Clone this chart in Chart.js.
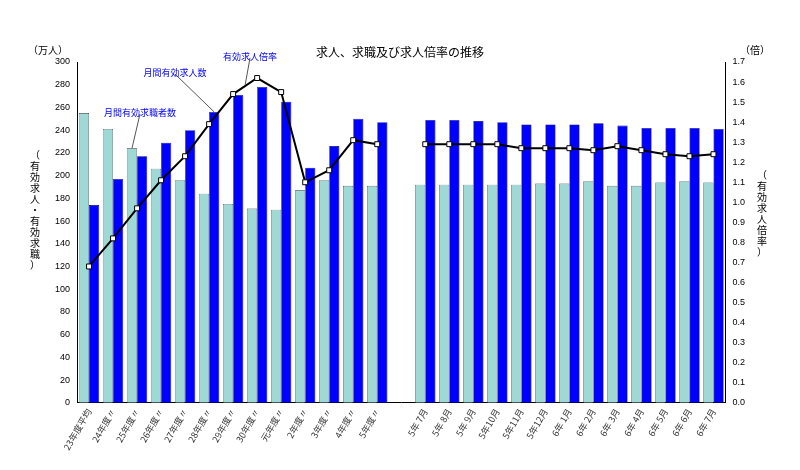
<!DOCTYPE html>
<html>
<head>
<meta charset="utf-8">
<script src="https://cdn.jsdelivr.net/npm/chart.js@4"></script>
<style>
  body { margin: 0; background: #fff; }
  #wrap { width: 800px; height: 470px; position: relative; }
</style>
</head>
<body>
<div id="wrap"><canvas id="c"></canvas></div>
<script>
const labels = ['23年度平均', '24年度〃', '25年度〃', '26年度〃', '27年度〃', '28年度〃', '29年度〃', '30年度〃', '元年度〃', '2年度〃', '3年度〃', '4年度〃', '5年度〃', '',
  '5年 7月', '5年 8月', '5年 9月', '5年10月', '5年11月', '5年12月', '6年 1月', '6年 2月', '6年 3月', '6年 4月', '6年 5月', '6年 6月', '6年 7月'];
const seekers = [255, 241, 224, 206, 196, 184, 175, 171, 170, 187, 196, 191, 191, null,
  192, 192, 192, 192, 192, 193, 193, 195, 191, 191, 194, 195, 194];
const offers = [174, 197, 217, 229, 240, 256, 271, 278, 265, 207, 226, 250, 247, null,
  249, 249, 248, 247, 245, 245, 245, 246, 244, 242, 242, 242, 241];
const ratio = [0.68, 0.82, 0.97, 1.11, 1.23, 1.39, 1.54, 1.62, 1.55, 1.10, 1.16, 1.31, 1.29, null,
  1.29, 1.29, 1.29, 1.29, 1.27, 1.27, 1.27, 1.26, 1.28, 1.26, 1.24, 1.23, 1.24];

const font = '"Noto Sans CJK JP", sans-serif';

// vertical Japanese text, one character per row
function drawVertical(ctx, text, x, yTop, size) {
  ctx.font = size + 'px ' + font;
  ctx.textAlign = 'center';
  ctx.textBaseline = 'top';
  [...text].forEach((ch, i) => ctx.fillText(ch, x, yTop + i * (size + 1)));
}

const extras = {
  id: 'extras',
  afterDraw(chart) {
    const ctx = chart.ctx;
    const x = chart.scales.x, yl = chart.scales.y, yr = chart.scales.y1;
    ctx.save();
    ctx.fillStyle = '#000';
    ctx.font = '12px ' + font;
    ctx.textAlign = 'center';
    ctx.textBaseline = 'middle';
    ctx.fillText('求人、求職及び求人倍率の推移', 400, 52);
    ctx.font = '10px ' + font;
    ctx.fillText('（万人）', 48, 50);
    ctx.fillText('（倍）', 755, 50);
    drawVertical(ctx, '（有効求人・有効求職）', 35, 150, 10);
    drawVertical(ctx, '（有効求人倍率）', 762, 170, 10);

    // callouts
    const bw = (x.getPixelForValue(1) - x.getPixelForValue(0)) * 0.85 / 2;
    ctx.strokeStyle = '#555';
    ctx.lineWidth = 1;
    ctx.font = '9px ' + font;
    ctx.fillStyle = '#0000ff';
    const callout = (text, tx, ty, px, py) => {
      ctx.beginPath();
      ctx.moveTo(tx, ty + 6);
      ctx.lineTo(px, py);
      ctx.stroke();
      ctx.fillText(text, tx, ty);
    };
    callout('月間有効求職者数', 140, 108, x.getPixelForValue(2) - bw / 2, yl.getPixelForValue(seekers[2]));
    callout('月間有効求人数', 175, 68, x.getPixelForValue(5) + bw / 2, yl.getPixelForValue(offers[5]));
    callout('有効求人倍率', 250, 52, (x.getPixelForValue(6) + x.getPixelForValue(7)) / 2, yr.getPixelForValue(1.585));
    ctx.restore();
  }
};

new Chart(document.getElementById('c'), {
  data: {
    labels: labels,
    datasets: [
      {
        type: 'line', label: '有効求人倍率', data: ratio, yAxisID: 'y1',
        borderColor: '#000', borderWidth: 2, tension: 0, spanGaps: false,
        pointStyle: 'rect', pointRadius: 3.5, pointBackgroundColor: '#fff',
        pointBorderColor: '#000', pointBorderWidth: 1, order: 0
      },
      {
        type: 'bar', label: '月間有効求職者数', data: seekers, yAxisID: 'y',
        backgroundColor: '#9ed9d6', borderColor: '#333', borderWidth: 0.6,
        barPercentage: 1, categoryPercentage: 0.85, order: 1
      },
      {
        type: 'bar', label: '月間有効求人数', data: offers, yAxisID: 'y',
        backgroundColor: '#0000ff', borderColor: '#000060', borderWidth: 0.6,
        barPercentage: 1, categoryPercentage: 0.85, order: 1
      }
    ]
  },
  options: {
    responsive: true,
    maintainAspectRatio: false,
    animation: false,
    layout: { padding: { left: 52, right: 52, top: 62, bottom: 14 } },
    plugins: { legend: { display: false }, tooltip: { enabled: false } },
    scales: {
      x: {
        grid: { display: false, drawTicks: false },
        border: { color: '#000' },
        ticks: {
          color: '#333', font: { size: 9, family: font },
          maxRotation: 60, minRotation: 60, autoSkip: false, padding: 4
        }
      },
      y: {
        position: 'left', min: 0, max: 300,
        grid: { display: false, drawTicks: true, tickLength: 4 },
        border: { color: '#000' },
        ticks: { stepSize: 20, color: '#000', font: { size: 9, family: 'Arial' } }
      },
      y1: {
        position: 'right', min: 0, max: 1.7,
        grid: { display: false, drawTicks: true, tickLength: 4 },
        border: { color: '#000' },
        ticks: { stepSize: 0.1, color: '#000', font: { size: 9, family: 'Arial' },
          callback: v => v.toFixed(1) }
      }
    }
  },
  plugins: [extras]
});
</script>
</body>
</html>
